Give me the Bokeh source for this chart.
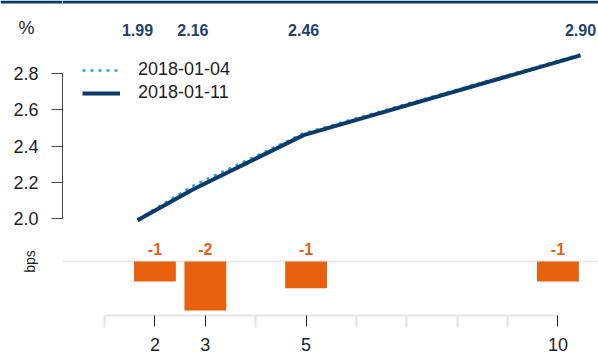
from math import pi

from bokeh.plotting import figure
from bokeh.layouts import column, row
from bokeh.models import (Range1d, FixedTicker, NumeralTickFormatter, Legend,
                          LegendItem, Span)
from bokeh.core.properties import value
from bokeh.embed import file_html
from bokeh.resources import INLINE

# Treasury curve: maturities in years, yields in %
maturities = [2, 3, 5, 10]
yield_prev = [1.995, 2.18, 2.47, 2.905]   # 2018-01-04
yield_curr = [1.99, 2.16, 2.46, 2.90]     # 2018-01-11
change_bps = [-0.9, -2.2, -1.2, -0.9]     # weekly change, basis points
dates = ["2018-01-04", "2018-01-11"]

y_ticks = [2.0, 2.2, 2.4, 2.6, 2.8]
x_major = [2, 3, 5, 10]
x_minor = [1, 4, 6, 7, 8, 9]

NAVY = "#0b3a6b"
LABEL_NAVY = "#1c426f"
CYAN = "#23a6de"
ORANGE = "#e8610f"
GREY = "#e4e4e4"
INK = "#1e1e1e"
FONT = "Liberation Sans"

W = 598
LEFT = 62
HEAD_H = 45


def bare(**kw):
    p = figure(toolbar_location=None, output_backend="svg",
               x_axis_location=None, y_axis_location=None,
               outline_line_color=None, min_border_left=0, min_border_right=0,
               min_border_top=0, min_border_bottom=0, **kw)
    p.grid.visible = False
    return p


def top_rule(p):
    # navy rule along the upper edge of the page
    p.add_layout(Span(location=1 - 1.5 / HEAD_H, dimension="width",
                      line_color=NAVY, line_width=3))


# ---- yield curve panel ----
top = figure(width=W, height=193, toolbar_location=None, output_backend="svg",
             x_range=Range1d(0.6456, 10.325), y_range=Range1d(1.8897, 2.9545),
             x_axis_location=None, min_border_left=LEFT, min_border_right=0,
             min_border_top=0, min_border_bottom=0, outline_line_color=None)
top.grid.visible = False

ya = top.yaxis[0]
ya.ticker = FixedTicker(ticks=y_ticks)
ya.formatter = NumeralTickFormatter(format="0.0")
ya.bounds = (2.0, 2.8)
ya.axis_line_color = "#444444"
ya.major_tick_line_color = "#444444"
ya.major_tick_in = 0
ya.major_tick_out = 11
ya.major_label_standoff = 13
ya.major_label_text_font = FONT
ya.major_label_text_font_size = "18px"
ya.major_label_text_color = INK

r_prev = top.line(maturities, yield_prev, line_color=CYAN, line_width=2.5,
                  line_dash="3 5")
r_curr = top.line(maturities, yield_curr, line_color=NAVY, line_width=4)

legend = Legend(items=[LegendItem(label=dates[0], renderers=[r_prev]),
                       LegendItem(label=dates[1], renderers=[r_curr])],
                location=(20, 135), glyph_width=38, glyph_height=20,
                label_height=20, spacing=2, padding=0, margin=0,
                label_standoff=18, border_line_color=None,
                background_fill_alpha=0, label_text_font=FONT,
                label_text_font_size="18px", label_text_color=INK)
top.add_layout(legend)

# ---- header: unit marker and latest yields ----
head_y = Range1d(0, 1)
pct = bare(width=LEFT, height=HEAD_H, x_range=Range1d(0, 1), y_range=head_y)
pct.text(x=[0.42], y=[0.4], text=["%"], text_font=value(FONT),
         text_font_size="18px", text_color=INK,
         text_align="center", text_baseline="middle")
top_rule(pct)

head = bare(width=W - LEFT, height=HEAD_H, x_range=top.x_range,
            y_range=head_y)
head.text(x=maturities, y=[0.344] * len(maturities),
          text=[f"{v:.2f}" for v in yield_curr],
          text_font=value(FONT), text_font_style="bold", text_font_size="16px",
          text_color=LABEL_NAVY, text_align="center", text_baseline="middle")
top_rule(head)

# ---- weekly change panel ----
bot = figure(width=W - LEFT, height=118, toolbar_location=None,
             output_backend="svg", x_range=Range1d(0.1643, 10.805),
             y_range=Range1d(-2.43, 1.035), y_axis_location=None,
             min_border_left=0, min_border_right=0, min_border_top=0,
             min_border_bottom=41, outline_line_color=None)
bot.grid.visible = False

zero = Span(location=0, dimension="width", line_color=GREY, line_width=1.5,
            level="underlay")
bot.add_layout(zero)

bot.vbar(x=maturities, top=change_bps, bottom=0, width=0.83,
         fill_color=ORANGE, line_color=None)

bot.text(x=maturities, y=[0.585] * len(maturities),
         text=[f"{round(v):d}" for v in change_bps],
         text_font=value(FONT), text_font_style="bold", text_font_size="16px",
         text_color=ORANGE, text_align="center", text_baseline="middle")

xa = bot.xaxis[0]
xa.ticker = FixedTicker(ticks=x_major, minor_ticks=x_minor)
xa.bounds = (1, 10)
xa.axis_line_color = GREY
xa.axis_line_width = 2
xa.major_tick_line_color = "#222222"
xa.major_tick_line_width = 1
xa.major_tick_in = 0
xa.major_tick_out = 11
xa.minor_tick_line_color = GREY
xa.minor_tick_line_width = 2
xa.minor_tick_in = 0
xa.minor_tick_out = 12
xa.major_label_standoff = 10
xa.major_label_text_font = FONT
xa.major_label_text_font_size = "18px"
xa.major_label_text_color = INK

# side strip holding the "bps" unit, sharing the bar panel's vertical scale
side = bare(width=LEFT, height=118, x_range=Range1d(0, 1),
            y_range=bot.y_range)
side.min_border_bottom = 41
side.text(x=[0.47], y=[0], text=["bps"], angle=pi / 2,
          text_font=value(FONT), text_font_size="14px", text_color=INK,
          text_align="center", text_baseline="middle")

layout = column(row(pct, head, spacing=0), top, row(side, bot, spacing=0),
                spacing=0)

open("out.html", "w").write(file_html(layout, INLINE))
